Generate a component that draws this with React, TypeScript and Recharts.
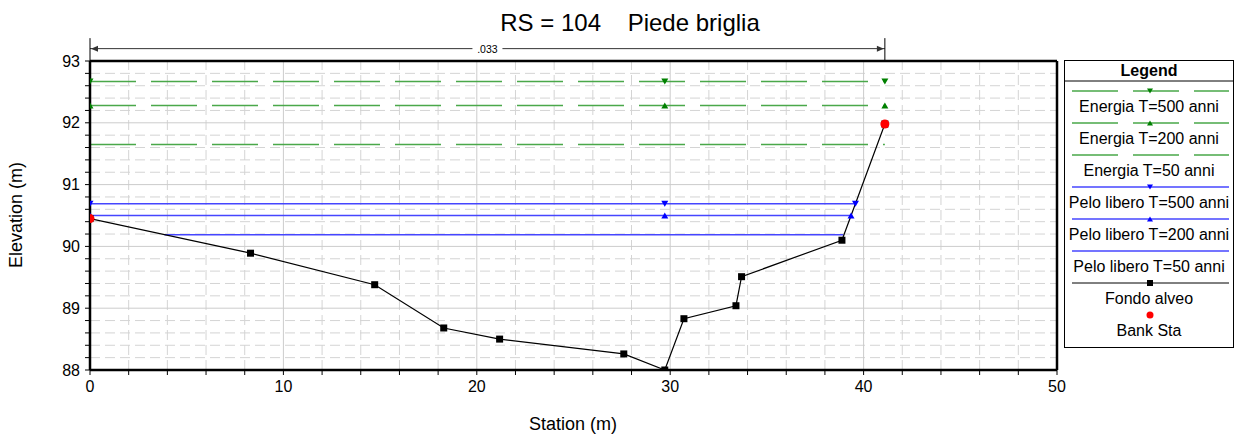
import React from 'react';
import { ComposedChart, Line, XAxis, YAxis, ReferenceLine } from 'recharts';

// ground profile (Fondo alveo)
const stations = [0, 8.3, 14.72, 18.29, 21.18, 27.6, 29.72, 30.71, 33.4, 33.69, 38.88, 41.1];
const fondoElev = [90.45, 89.89, 89.38, 88.68, 88.5, 88.26, 88.0, 88.83, 89.04, 89.51, 90.1, 91.98];

// bank stations
const bankStations = [0, 41.1];
const bankElev = [90.45, 91.98];

// energy grade lines
const energyStations = [0, 29.72, 41.1];
const energy50Stations = [0, 41.1];
const energia500 = 92.67;
const energia200 = 92.28;
const energia50 = 91.65;

// water surfaces
const pelo500Stations = [0, 29.72, 39.58];
const pelo200Stations = [0, 29.72, 39.35];
const pelo50Stations = [3.85, 38.95];
const pelo500 = 90.69;
const pelo200 = 90.5;
const pelo50 = 90.19;

const manningN = '.033';
const dimensionEnd = 41.1;

const xMajor = [0, 10, 20, 30, 40, 50];
const xMinor = [2, 4, 6, 8, 12, 14, 16, 18, 22, 24, 26, 28, 32, 34, 36, 38, 42, 44, 46, 48];
const yMajor = [88, 89, 90, 91, 92, 93];
const yMinor = [88.2, 88.4, 88.6, 88.8, 89.2, 89.4, 89.6, 89.8, 90.2, 90.4, 90.6, 90.8, 91.2, 91.4, 91.6, 91.8, 92.2, 92.4, 92.6, 92.8];
const xTicks = [...xMajor, ...xMinor].sort((a, b) => a - b);
const yTicks = [...yMajor, ...yMinor].sort((a, b) => a - b);

const legendNames = [
  'Energia T=500 anni',
  'Energia T=200 anni',
  'Energia T=50 anni',
  'Pelo libero T=500 anni',
  'Pelo libero T=200 anni',
  'Pelo libero T=50 anni',
  'Fondo alveo',
  'Bank Sta',
];

const GREEN = '#4aa84a';
const GREEN_MK = '#008000';
const BLUE = '#4646ff';
const BLUE_MK = '#0000ff';
const FONT = '"Liberation Sans", Arial, sans-serif';

const flat = (xs: number[], y: number) => xs.map((x) => ({ x, y }));
const fondo = stations.map((x, i) => ({ x, y: fondoElev[i] }));
const bank = bankStations.map((x, i) => ({ x, y: bankElev[i] }));

const triDown = (fill: string) => (p: any) =>
  p.cx == null ? <g key={p.index} /> : (
    <path key={p.index} d={`M${p.cx - 3.5},${p.cy - 3}L${p.cx + 3.5},${p.cy - 3}L${p.cx},${p.cy + 3}Z`} fill={fill} />
  );
const triUp = (fill: string) => (p: any) =>
  p.cx == null ? <g key={p.index} /> : (
    <path key={p.index} d={`M${p.cx - 3.5},${p.cy + 3}L${p.cx + 3.5},${p.cy + 3}L${p.cx},${p.cy - 3}Z`} fill={fill} />
  );
const square = (p: any) =>
  p.cx == null ? <g key={p.index} /> : <rect key={p.index} x={p.cx - 3.5} y={p.cy - 3.5} width={7} height={7} fill="#000" />;
const redDot = (p: any) =>
  p.cx == null ? <g key={p.index} /> : <circle key={p.index} cx={p.cx} cy={p.cy} r={4.5} fill="#ff0000" />;

const DimensionShape = (p: any) => {
  const { x1, y1, x2 } = p;
  const mid = (x1 + x2) / 2;
  return (
    <g>
      <line x1={x1} y1={y1} x2={x2} y2={y1} stroke="#333" strokeWidth={1} />
      <path d={`M${x1 + 1},${y1}l7,-3v6z`} fill="#333" />
      <path d={`M${x2 - 1},${y1}l-7,-3v6z`} fill="#333" />
      <rect x={mid - 15} y={y1 - 6} width={30} height={12} fill="#fff" />
      <text x={mid} y={y1 + 4} textAnchor="middle" fontSize={10.5} fontFamily={FONT} fill="#000">
        {manningN}
      </text>
    </g>
  );
};

function LegendBox() {
  const sx1 = 8;
  const sx2 = 165;
  const mx = 86;
  const sample = (i: number) => {
    const y = 31 + 32 * i;
    if (i <= 2) {
      return (
        <g>
          <line x1={sx1} x2={sx2} y1={y} y2={y} stroke={GREEN} strokeWidth={1.5} strokeDasharray="46 15" />
          {i === 0 && <path d={`M${mx - 3},${y - 2.5}L${mx + 3},${y - 2.5}L${mx},${y + 2.5}Z`} fill={GREEN_MK} />}
          {i === 1 && <path d={`M${mx - 3},${y + 2.5}L${mx + 3},${y + 2.5}L${mx},${y - 2.5}Z`} fill={GREEN_MK} />}
        </g>
      );
    }
    if (i <= 5) {
      return (
        <g>
          <line x1={sx1} x2={sx2} y1={y} y2={y} stroke={BLUE} strokeWidth={1.5} />
          {i === 3 && <path d={`M${mx - 3},${y - 2.5}L${mx + 3},${y - 2.5}L${mx},${y + 2.5}Z`} fill={BLUE_MK} />}
          {i === 4 && <path d={`M${mx - 3},${y + 2.5}L${mx + 3},${y + 2.5}L${mx},${y - 2.5}Z`} fill={BLUE_MK} />}
        </g>
      );
    }
    if (i === 6) {
      return (
        <g>
          <line x1={sx1} x2={sx2} y1={y} y2={y} stroke="#000" strokeWidth={1} />
          <rect x={mx - 3} y={y - 3} width={6} height={6} fill="#000" />
        </g>
      );
    }
    return <circle cx={mx} cy={y} r={3.5} fill="#ff0000" />;
  };
  return (
    <svg width={170} height={289} style={{ position: 'absolute', left: 1064, top: 60 }}>
      <rect x={0.5} y={0.5} width={169} height={287} fill="#fff" stroke="#000" strokeWidth={1} />
      <text x={85} y={16} textAnchor="middle" fontSize={16} fontWeight="bold" fontFamily={FONT}>
        Legend
      </text>
      <line x1={0} x2={170} y1={21} y2={21} stroke="#000" strokeWidth={1} />
      {legendNames.map((name, i) => (
        <g key={name}>
          {sample(i)}
          <text x={85} y={52 + 32 * i} textAnchor="middle" fontSize={16} fontFamily={FONT} fill="#000">
            {name}
          </text>
        </g>
      ))}
    </svg>
  );
}

export default function App() {
  const tickStyle = { fontSize: 16, fill: '#000', fontFamily: FONT };
  return (
    <div style={{ position: 'relative', width: 1234, height: 438, fontFamily: FONT, background: '#fff' }}>
      <style>{'body{margin:0}'}</style>
      <div
        style={{
          position: 'absolute', left: 430, top: 9, width: 400, textAlign: 'center',
          fontSize: 24, lineHeight: '28px', whiteSpace: 'pre',
        }}
      >
        {'RS = 104    Piede briglia'}
      </div>
      <div
        style={{
          position: 'absolute', left: -84, top: 205, width: 200, height: 20, textAlign: 'center',
          fontSize: 18, lineHeight: '20px', transform: 'rotate(-90deg)',
        }}
      >
        Elevation (m)
      </div>
      <div
        style={{
          position: 'absolute', left: 423, top: 414, width: 300, textAlign: 'center',
          fontSize: 18, lineHeight: '20px',
        }}
      >
        Station (m)
      </div>
      <ComposedChart width={1234} height={438} margin={{ top: 61, right: 177, bottom: 38, left: 30 }}>
        {xMinor.map((v) => (
          <ReferenceLine key={`xm${v}`} x={v} stroke="#d4d4d4" strokeDasharray="10 5" />
        ))}
        {yMinor.map((v) => (
          <ReferenceLine key={`ym${v}`} y={v} stroke="#d4d4d4" strokeDasharray="10 5" />
        ))}
        {xMajor.map((v) => (
          <ReferenceLine key={`xM${v}`} x={v} stroke="#cccccc" />
        ))}
        {yMajor.map((v) => (
          <ReferenceLine key={`yM${v}`} y={v} stroke="#cccccc" />
        ))}
        <XAxis
          type="number"
          dataKey="x"
          domain={[0, 50]}
          ticks={xTicks}
          interval={0}
          height={30}
          tickSize={5}
          tickMargin={6}
          tick={tickStyle}
          tickFormatter={(v: number) => (v % 10 === 0 ? String(v) : '')}
          axisLine={{ stroke: '#000', strokeWidth: 2.5 }}
          tickLine={{ stroke: '#000' }}
          allowDataOverflow
        />
        <YAxis
          type="number"
          domain={[88, 93]}
          ticks={yTicks}
          interval={0}
          width={60}
          tickSize={5}
          tickMargin={5}
          tick={tickStyle}
          tickFormatter={(v: number) => (Math.abs(v - Math.round(v)) < 1e-6 ? String(Math.round(v)) : '')}
          axisLine={{ stroke: '#000', strokeWidth: 2.5 }}
          tickLine={{ stroke: '#000' }}
          allowDataOverflow
        />
        <ReferenceLine y={93} stroke="#000" strokeWidth={2.5} />
        <ReferenceLine x={50} stroke="#000" strokeWidth={2.5} />

        <ReferenceLine
          segment={[{ x: 0, y: 93.2 }, { x: dimensionEnd, y: 93.2 }]}
          ifOverflow="visible"
          shape={DimensionShape}
        />
        <ReferenceLine segment={[{ x: 0, y: 93 }, { x: 0, y: 93.37 }]} ifOverflow="visible" stroke="#000" />
        <ReferenceLine segment={[{ x: dimensionEnd, y: 93 }, { x: dimensionEnd, y: 93.37 }]} ifOverflow="visible" stroke="#000" />

        <Line data={flat(energyStations, energia500)} dataKey="y" stroke={GREEN} strokeWidth={1.5} strokeDasharray="46 15" dot={triDown(GREEN_MK)} isAnimationActive={false} />
        <Line data={flat(energyStations, energia200)} dataKey="y" stroke={GREEN} strokeWidth={1.5} strokeDasharray="46 15" dot={triUp(GREEN_MK)} isAnimationActive={false} />
        <Line data={flat(energy50Stations, energia50)} dataKey="y" stroke={GREEN} strokeWidth={1.5} strokeDasharray="46 15" dot={false} isAnimationActive={false} />

        <Line data={flat(pelo500Stations, pelo500)} dataKey="y" stroke={BLUE} strokeWidth={1.5} dot={triDown(BLUE_MK)} isAnimationActive={false} />
        <Line data={flat(pelo200Stations, pelo200)} dataKey="y" stroke={BLUE} strokeWidth={1.5} dot={triUp(BLUE_MK)} isAnimationActive={false} />
        <Line data={flat(pelo50Stations, pelo50)} dataKey="y" stroke={BLUE} strokeWidth={1.5} dot={false} isAnimationActive={false} />

        <Line data={fondo} dataKey="y" stroke="#000" strokeWidth={1.2} dot={square} isAnimationActive={false} />
        <Line data={bank} dataKey="y" stroke="none" dot={redDot} isAnimationActive={false} />
      </ComposedChart>
      <LegendBox />
    </div>
  );
}
